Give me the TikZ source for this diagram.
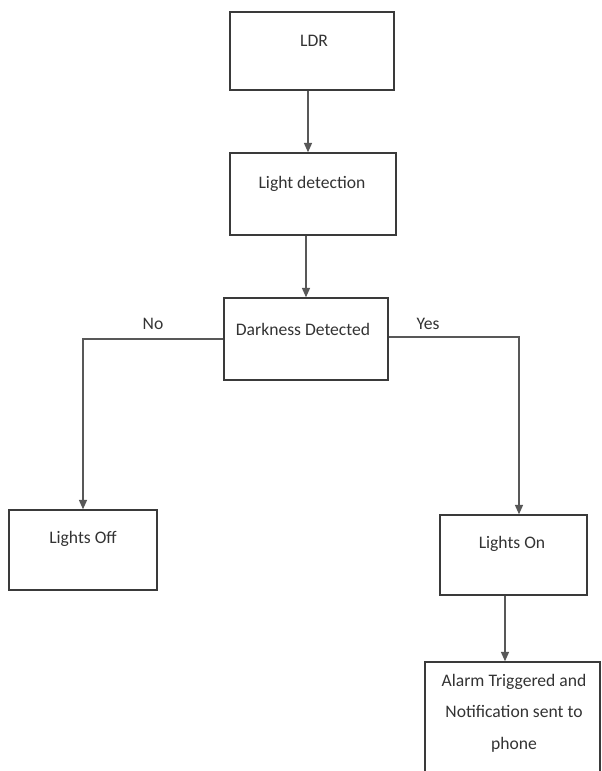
\documentclass[tikz,border=0pt]{standalone}
\usepackage{fontspec}
\setmainfont{Carlito}
\usetikzlibrary{calc,arrows.meta}
\definecolor{linec}{HTML}{3A3A3A}
\definecolor{textc}{HTML}{333333}
\tikzset{
  box/.style={draw=linec, line width=1.1pt, rectangle, inner sep=0pt},
  txt/.style={text=textc, font=\fontsize{13.2}{23.6}\selectfont, inner sep=0pt, align=center},
  arr/.style={draw=linec!85!white, line width=1pt, -{Triangle[length=7pt,width=6pt]}},
}
\begin{document}
\begin{tikzpicture}[x=0.75pt,y=-0.75pt]
\useasboundingbox (0,0) rectangle (602,771);
\clip (0,0) rectangle (602,771);
% boxes
\node[box, minimum width=164*0.75pt, minimum height=78*0.75pt] (ldr) at (312,51) {};
\node[box, minimum width=166*0.75pt, minimum height=82*0.75pt] (light) at (313,194) {};
\node[box, minimum width=164*0.75pt, minimum height=82*0.75pt] (dark) at (306,339) {};
\node[box, minimum width=148*0.75pt, minimum height=80*0.75pt] (off) at (83,550) {};
\node[box, minimum width=147*0.75pt, minimum height=80*0.75pt] (on) at (513.5,555) {};
\node[box, minimum width=175*0.75pt, minimum height=120*0.75pt] (alarm) at (512.5,722) {};
% texts
\node[txt] (ldrt) at (314,41) {LDR};
\node[txt] (lightt) at (312,184) {Light detection};
\node[txt] (darkt) at (303,329) {Darkness Detected};
\node[txt] (offt) at (83,539) {Lights Off};
\node[txt] (ont) at (512,544) {Lights On};
\node[txt, anchor=north] (alarmt) at (514,674) {Alarm Triggered and\\Notification sent to\\phone};
\node[txt] (no) at (153,324) {No};
\node[txt] (yes) at (428,324) {Yes};
% connectors
\coordinate (c1) at ($(ldr.south)+(-4,0)$);
\draw[arr] (c1) -- (c1 |- light.north);
\draw[arr] (light.south -| dark.north) -- (dark.north);
\draw[arr] (dark.west) -| (off.north);
\coordinate (c2) at ($(on.north)+(5.5,0)$);
\draw[arr] ($(dark.east)+(0,-2)$) -| (c2);
\coordinate (c3) at ($(on.south)+(-8.5,0)$);
\coordinate (c4) at (c3 |- alarm.north);
\draw[arr] (c3) -- (c4);
\end{tikzpicture}
\end{document}
